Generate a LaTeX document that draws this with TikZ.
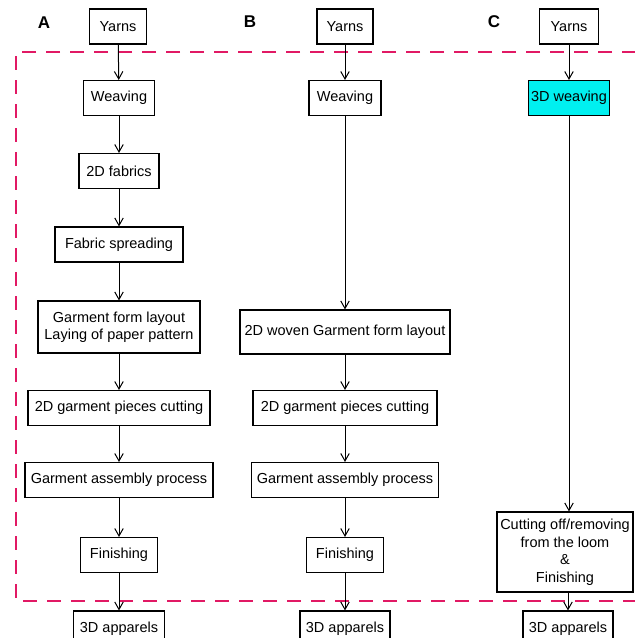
\documentclass[tikz,border=0pt]{standalone}
\usepackage{fontspec}
\setmainfont{Liberation Sans}
\usetikzlibrary{arrows.meta}
\definecolor{framepink}{RGB}{225,25,100}
\definecolor{weavecyan}{RGB}{0,240,240}

\begin{document}
\begin{tikzpicture}[x=1pt, y=-1pt,
		box/.style={draw, line width=1.1pt, inner xsep=3pt, inner ysep=0pt, minimum height=35pt,
			align=center, font=\fontsize{14.5}{17.5}\selectfont},
		flow/.style={-{Straight Barb[length=7.5pt,width=8.5pt]}, line width=1pt},
		panel/.style={font=\fontsize{17}{19}\selectfont\bfseries}]
				\clip (0,0) rectangle (635,638);
				% dashed frame (right side runs off the page)
				\draw[framepink, line width=2.8pt, dash pattern=on 14pt off 10pt]
					(660,52) -- (16,52) -- (16,601) -- (660,601);
				\node[panel] (pa) at (44,23) {A};
				\node[panel] (pb) at (250,22) {B};
				\node[panel] (pc) at (494,22) {C};
				% A
				\node[box, minimum width=57pt] (ayarn) at (118,26.5) {Yarns};
				\node[box, minimum width=71pt] (aweave) at (119,98) {Weaving};
				\node[box, minimum width=80pt] (afab) at (119,171) {2D fabrics};
				\node[box, minimum width=128pt] (aspread) at (119,244.5) {Fabric spreading};
				\node[box, minimum width=162pt, minimum height=52pt] (alayout) at (119,327) {Garment form layout\\Laying of paper pattern};
				\node[box, minimum width=182pt] (acut) at (119,408) {2D garment pieces cutting};
				\node[box, minimum width=188pt] (aassy) at (119,480) {Garment assembly process};
				\node[box, minimum width=77pt] (afin) at (119,555) {Finishing};
				\node[box, minimum width=91pt] (aapp) at (119,628.5) {3D apparels};
				% B
				\node[box, minimum width=56pt] (byarn) at (345,26.5) {Yarns};
				\node[box, minimum width=72pt] (bweave) at (345,98) {Weaving};
				\node[box, minimum width=210pt, minimum height=44pt] (blayout) at (345,332) {2D woven Garment form layout};
				\node[box, minimum width=184pt] (bcut) at (345,408) {2D garment pieces cutting};
				\node[box, minimum width=187pt] (bassy) at (345,480) {Garment assembly process};
				\node[box, minimum width=77pt] (bfin) at (345,555) {Finishing};
				\node[box, minimum width=90pt] (bapp) at (345,628.5) {3D apparels};
				% C
				\node[box, minimum width=59pt] (cyarn) at (569,26.5) {Yarns};
				\node[box, minimum width=81pt, fill=weavecyan] (cweave) at (569,98) {3D weaving};
				\node[box, minimum width=136pt, minimum height=80pt] (ccut) at (565,552)
					{Cutting off/removing\\from the loom\\\&\\Finishing};
				\node[box, minimum width=90pt] (capp) at (568,628.5) {3D apparels};
				\foreach \a/\b in {ayarn/aweave, aweave/afab, afab/aspread, aspread/alayout,
					alayout/acut, acut/aassy, aassy/afin, afin/aapp,
					byarn/bweave, bweave/blayout, blayout/bcut, bcut/bassy, bassy/bfin, bfin/bapp,
					cyarn/cweave} {
					\draw[flow] (\a) -- (\b);
				}
				\draw[flow] (cweave) -- (cweave |- ccut.north);
				\draw[flow] (capp |- ccut.south) -- (capp);
			\end{tikzpicture}
\end{document}
